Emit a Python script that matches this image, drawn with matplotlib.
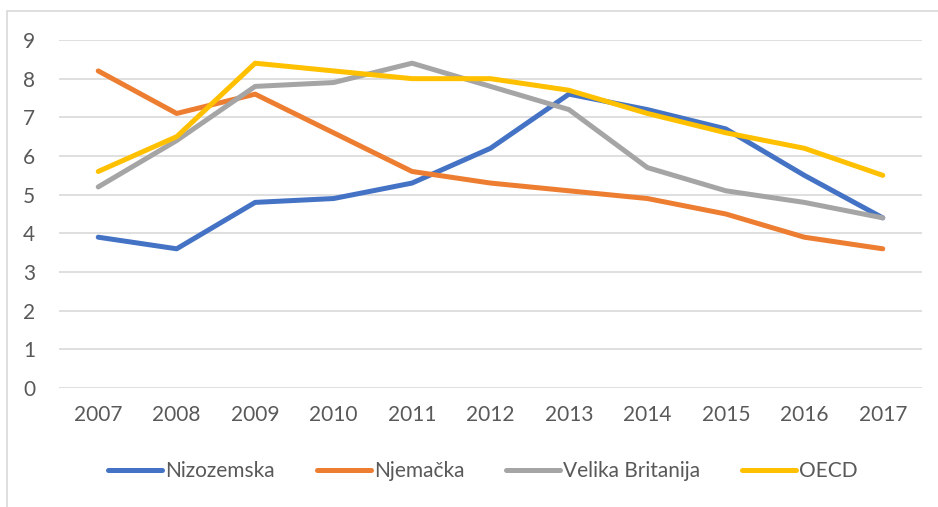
import matplotlib.pyplot as plt
from matplotlib.patches import Rectangle

years = ['2007', '2008', '2009', '2010', '2011', '2012', '2013', '2014', '2015', '2016', '2017']
nizozemska = [3.9, 3.6, 4.8, 4.9, 5.3, 6.2, 7.6, 7.2, 6.7, 5.5, 4.4]
njemacka = [8.2, 7.1, 7.6, 6.6, 5.6, 5.3, 5.1, 4.9, 4.5, 3.9, 3.6]
velika_britanija = [5.2, 6.4, 7.8, 7.9, 8.4, 7.8, 7.2, 5.7, 5.1, 4.8, 4.4]
oecd = [5.6, 6.5, 8.4, 8.2, 8.0, 8.0, 7.7, 7.1, 6.6, 6.2, 5.5]

series = [
    ('Nizozemska', nizozemska, '#4472c4'),
    ('Njemačka', njemacka, '#ed7d31'),
    ('Velika Britanija', velika_britanija, '#a5a5a5'),
    ('OECD', oecd, '#ffc000'),
]

plt.rcParams['font.family'] = ['Lato', 'DejaVu Sans']
text_col = '#595959'

fig = plt.figure(figsize=(9.38, 5.07), dpi=100)
ax = fig.add_axes([59 / 938, 1 - 388 / 507, 863 / 938, 348 / 507])

# okvir grafikona
fig.patches.append(Rectangle((7 / 938, -0.1), 1.2, 1 - 11 / 507 + 0.1,
                             transform=fig.transFigure, fill=False,
                             edgecolor='#d9d9d9', linewidth=1.2))

x = list(range(len(years)))
for name, vals, col in series:
    ax.plot(x, vals, color=col, linewidth=3.6, solid_capstyle='round',
            solid_joinstyle='round', label=name)

ax.set_xlim(-0.5, len(years) - 0.5)
ax.set_ylim(0, 9)
ax.set_yticks(range(10))
ax.set_xticks(x)
ax.set_xticklabels(years)
ax.yaxis.grid(True, color='#d9d9d9', linewidth=1.2)
ax.set_axisbelow(True)
for s in ax.spines.values():
    s.set_visible(False)
ax.tick_params(length=0, labelsize=15, labelcolor=text_col)
ax.tick_params(axis='x', pad=12)
ax.tick_params(axis='y', pad=17)

leg = fig.legend(loc='center', bbox_to_anchor=(483 / 938, 1 - 471 / 507), ncol=4,
                 frameon=False, fontsize=15, handlelength=2.6, handletextpad=0.15,
                 columnspacing=2.0)
for t in leg.get_texts():
    t.set_color(text_col)

fig.savefig('out.png', dpi=100)
